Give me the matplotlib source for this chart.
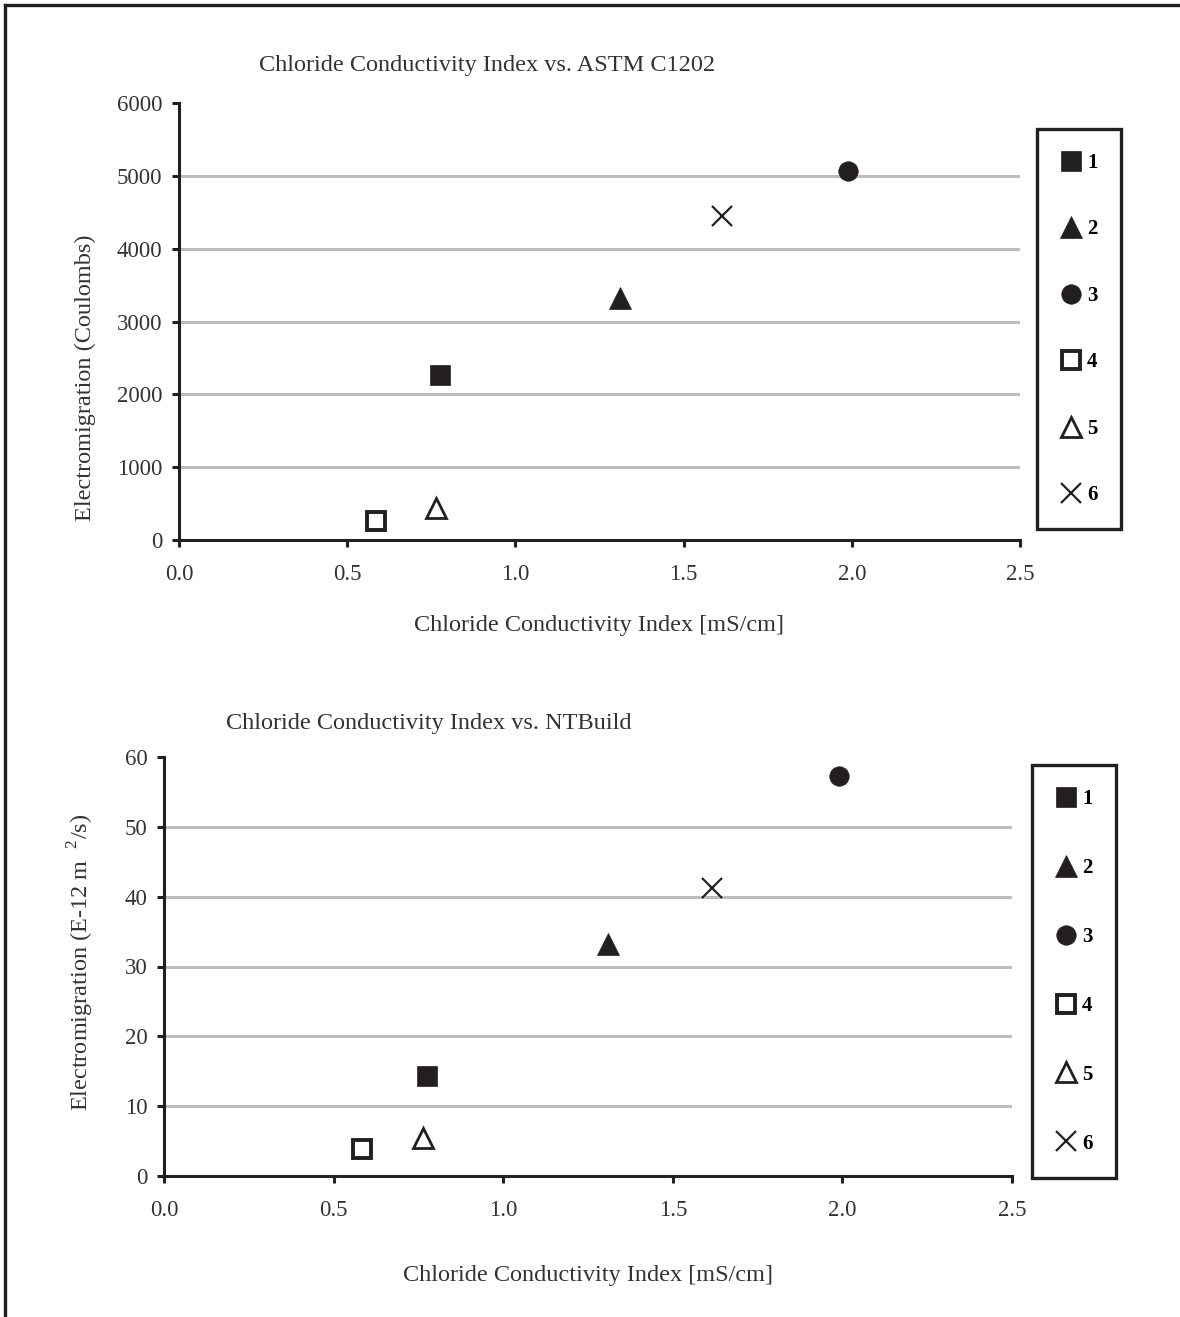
import matplotlib
matplotlib.use("Agg")
import matplotlib.pyplot as plt
from matplotlib.lines import Line2D

plt.rcParams["font.family"] = ["Liberation Serif", "DejaVu Serif"]
plt.rcParams["mathtext.fontset"] = "custom"
plt.rcParams["mathtext.rm"] = "Liberation Serif"

INK = "#231f20"
GRID = "#bdbdbd"
TXT = "#333333"

# data
labels = ["1", "2", "3", "4", "5", "6"]
cci = [0.775, 1.31, 1.99, 0.585, 0.765, 1.615]  # mS/cm
coulombs = [2270, 3320, 5060, 260, 440, 4450]
ntbuild = [14.3, 33.2, 57.3, 3.9, 5.4, 41.2]  # E-12 m2/s

styles = [
    dict(marker="s", markersize=15, markerfacecolor=INK, markeredgecolor=INK, markeredgewidth=0.5),
    dict(marker="^", markersize=16, markerfacecolor=INK, markeredgecolor=INK, markeredgewidth=0.5),
    dict(marker="o", markersize=14, markerfacecolor=INK, markeredgecolor=INK, markeredgewidth=0.5),
    dict(marker="s", markersize=13, markerfacecolor="white", markeredgecolor=INK, markeredgewidth=2.8),
    dict(marker="^", markersize=14, markerfacecolor="white", markeredgecolor=INK, markeredgewidth=2.0),
    dict(marker="x", markersize=15, markerfacecolor=INK, markeredgecolor=INK, markeredgewidth=1.6),
]


def panel(ax, xs, ys, ymax, ystep, ylabel, legend_xy, spacing):
    for x, y, lab, st in zip(xs, ys, labels, styles):
        ax.plot([x], [y], linestyle="none", label=lab, **st)

    ax.set_xlim(0, 2.5)
    ax.set_ylim(0, ymax)
    ax.set_xticks([0, 0.5, 1.0, 1.5, 2.0, 2.5])
    ax.set_xticklabels(["0.0", "0.5", "1.0", "1.5", "2.0", "2.5"])
    ax.set_yticks(range(0, ymax + 1, ystep))

    for s in ["top", "right"]:
        ax.spines[s].set_visible(False)
    for s in ["left", "bottom"]:
        ax.spines[s].set_linewidth(2.2)
        ax.spines[s].set_color(INK)
    ax.tick_params(direction="out", length=5, width=2.2, color=INK,
                   labelsize=16.5, labelcolor=TXT, pad=7)
    ax.tick_params(axis="x", pad=12)

    ax.yaxis.grid(True, color=GRID, linewidth=2.2)
    ax.set_axisbelow(True)
    # no gridline on top of the axis or at the frame top
    gls = ax.yaxis.get_gridlines()
    gls[0].set_visible(False)
    gls[-1].set_visible(False)

    ax.set_xlabel("Chloride Conductivity Index [mS/cm]", fontsize=17.5, color=TXT)
    ax.set_ylabel(ylabel, fontsize=17.5, color=TXT)

    ax.legend(loc="upper left", bbox_to_anchor=legend_xy,
              bbox_transform=ax.figure.transFigure, borderaxespad=0,
              fancybox=False, edgecolor=INK, framealpha=1,
              prop=dict(weight="bold", size=15),
              labelspacing=spacing, borderpad=1.15, handlelength=1.0,
              handletextpad=0.25, numpoints=1).get_frame().set_linewidth(2.4)


W, H = 1180, 1317
fig = plt.figure(figsize=(W / 100, H / 100), dpi=100)

ax1 = fig.add_axes([179 / W, 1 - 540 / H, 841 / W, 437 / H])
panel(ax1, cci, coulombs, 6000, 1000, "Electromigration (Coulombs)",
      (1037 / W, 1 - 129 / H), 2.23)
ax1.yaxis.set_label_coords(-0.099, 0.371)
ax1.xaxis.set_label_coords(0.5, -0.172)

ax2 = fig.add_axes([164 / W, 1 - 1176 / H, 848 / W, 419 / H])
panel(ax2, cci, ntbuild, 60, 10, "Electromigration (E-12 m  $^{2}$/s)",
      (1032 / W, 1 - 765 / H), 2.35)
ax2.yaxis.set_label_coords(-0.080, 0.511)
ax2.xaxis.set_label_coords(0.5, -0.212)

fig.text(259 / W, 1 - 65 / H, "Chloride Conductivity Index vs. ASTM C1202",
         fontsize=17.5, color=TXT, ha="left", va="center")
fig.text(226 / W, 1 - 724 / H, "Chloride Conductivity Index vs. NTBuild",
         fontsize=17.5, color=TXT, ha="left", va="center")

# page frame (left and top edges)
fig.add_artist(Line2D([5 / W, 5 / W], [0, 1 - 5 / H], color=INK, linewidth=2.4,
                      transform=fig.transFigure))
fig.add_artist(Line2D([5 / W, 1], [1 - 5 / H, 1 - 5 / H], color=INK, linewidth=2.4,
                      transform=fig.transFigure))

fig.savefig("out.png", dpi=100)
